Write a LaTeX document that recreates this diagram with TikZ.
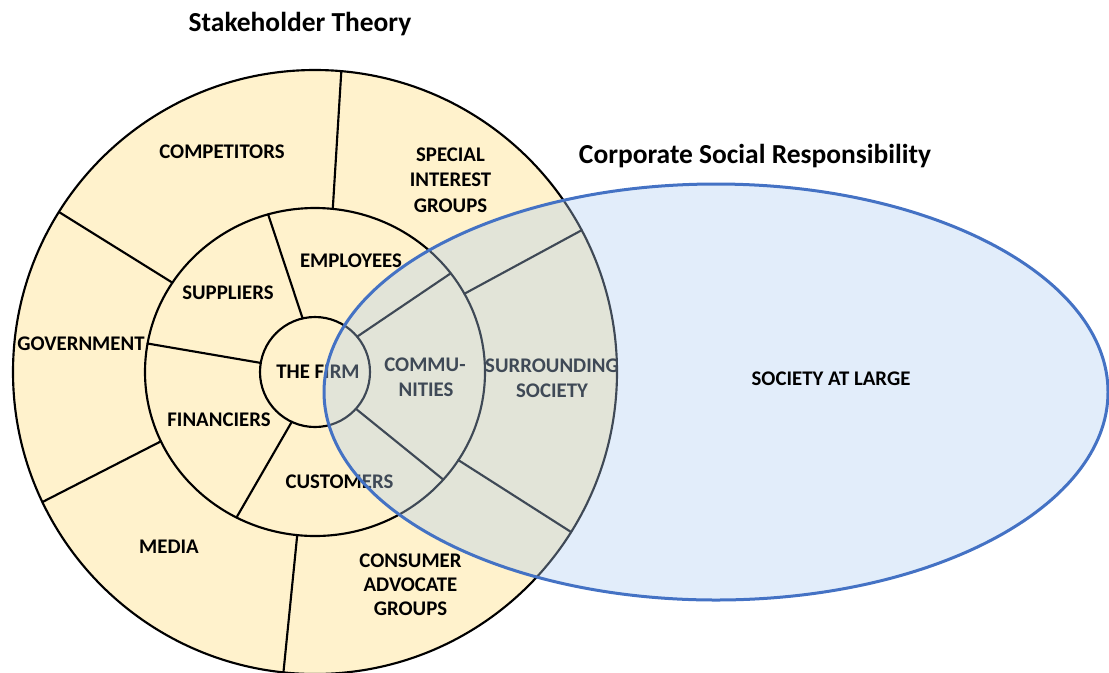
\documentclass[tikz,border=0pt]{standalone}
\usepackage{fontspec}
\setmainfont{Carlito}
\definecolor{stfill}{HTML}{FFF2CC}
\definecolor{csrline}{HTML}{4472C4}
\definecolor{csrfill}{RGB}{175,205,240}
\begin{document}
\begin{tikzpicture}[x=0.75pt,y=-0.75pt,
  lbl/.style={font=\bfseries\fontsize{15.6}{18}\selectfont, anchor=base, inner sep=0pt},
  ttl/.style={font=\bfseries\fontsize{20.6}{25}\selectfont, anchor=base, inner sep=0pt},
  ring/.style={line width=1.6pt, draw=black},
  spoke/.style={line width=1.6pt, draw=black, line cap=round}]
\useasboundingbox (0,0) rectangle (1109,672);
% Stakeholder circles
\fill[stfill] (315,372) circle[radius=302];
\draw[ring] (315,372) circle[radius=302];
\draw[ring] (315,372) ellipse[x radius=170, y radius=164];
\draw[ring] (315,372) circle[radius=55];
\begin{scope}[shift={(315,372)}]
  % outer ring spokes (middle ring -> outer circle), image angles
  \foreach \a/\b [count=\i] in {-84/-85, -147/-148, -205/-205.5, -264/-264, -28.5/-28, 32.5/32}{
    \coordinate (oi\i) at (\a:170 and 164);
    \coordinate (oo\i) at (\b:302);
    \draw[spoke] (oi\i) -- (oo\i);
  }
  % inner ring spokes (firm -> middle ring)
  \foreach \a/\b [count=\i] in {-103/-106, -170.5/-170, -245/-242.5, -40/-37, 42/41}{
    \coordinate (ii\i) at (\a:55);
    \coordinate (io\i) at (\b:170 and 164);
    \draw[spoke] (ii\i) -- (io\i);
  }
\end{scope}
% labels
\node[lbl] (competitors) at (222,158) {COMPETITORS};
\node[lbl] (special) at (450.5,161) {SPECIAL};
\node[lbl] (interest) at (450.5,186.5) {INTEREST};
\node[lbl] (groupsA) at (450.5,212) {GROUPS};
\node[lbl] (employees) at (351,267) {EMPLOYEES};
\node[lbl] (suppliers) at (228,299) {SUPPLIERS};
\node[lbl] (government) at (81,350) {GOVERNMENT};
\node[lbl] (firm) at (318,378) {THE FIRM};
\node[lbl] (commu) at (425,371) {COMMU-};
\node[lbl] (nities) at (426,396) {NITIES};
\node[lbl] (surrounding) at (552,372) {SURROUNDING};
\node[lbl] (society) at (552,397) {SOCIETY};
\node[lbl] (financiers) at (219,426) {FINANCIERS};
\node[lbl] (customers) at (339.5,488) {CUSTOMERS};
\node[lbl] (media) at (169,553) {MEDIA};
\node[lbl] (consumer) at (410.5,567) {CONSUMER};
\node[lbl] (advocate) at (410.5,591) {ADVOCATE};
\node[lbl] (groupsB) at (410.5,615.5) {GROUPS};
% CSR ellipse
\fill[csrfill, fill opacity=0.36] (716,392) ellipse[x radius=392, y radius=208];
\draw[csrline, line width=2.25pt] (716,392) ellipse[x radius=392, y radius=208];
\node[lbl] (large) at (831,385) {SOCIETY AT LARGE};
% titles
\node[ttl] (sttitle) at (300,31.7) {Stakeholder Theory};
\node[ttl] (csrtitle) at (755,163) {Corporate Social Responsibility};
\end{tikzpicture}
\end{document}
